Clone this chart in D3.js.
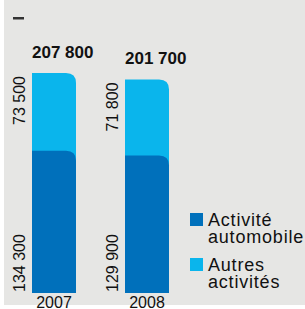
<!DOCTYPE html>
<html>
<head>
<meta charset="utf-8">
<script src="https://cdn.jsdelivr.net/npm/d3@7"></script>
<style>
  body { margin: 0; background: #fff; }
  svg { display: block; font-family: "Liberation Sans", Arial, sans-serif; }
</style>
</head>
<body>
<div id="chart"></div>
<script>
// data
var years = ["2007", "2008"];
var autoValues = [134300, 129900];
var otherValues = [73500, 71800];
var totals = [207800, 201700];
var seriesNames = [["Activité", "automobile"], ["Autres", "activités"]];

var width = 305, height = 309;
var darkBlue = "#0070bb", lightBlue = "#0ab5ec";

var svg = d3.select("#chart").append("svg")
    .attr("width", width)
    .attr("height", height);

// panel background, white strips left and bottom
svg.append("rect")
    .attr("x", 4).attr("y", 0)
    .attr("width", width - 4).attr("height", 305)
    .attr("fill", "#e6e6e4");

// cut-off heading (only the bottoms of the brackets show)
svg.append("text")
    .attr("x", 16).attr("y", -3)
    .attr("font-size", 14)
    .attr("textLength", 166)
    .text("(effectifs au 31 décembre)");
svg.append("rect")
    .attr("x", 13).attr("y", 17)
    .attr("width", 11).attr("height", 2.5)
    .attr("fill", "#333");

var x = d3.scaleBand()
    .domain(years)
    .range([32, 169])
    .paddingInner(0.527)
    .paddingOuter(0);

var y = d3.scaleLinear()
    .domain([0, 207800])
    .range([293, 73]);

var fmt = function (v) { return d3.format(",")(v).replace(",", " "); };

// bar with just the top-right corner rounded
function topRightBar(x0, w, yTop, yBottom, r) {
    return "M" + x0 + "," + yBottom +
        "V" + yTop +
        "H" + (x0 + w - r) +
        "Q" + (x0 + w) + "," + yTop + " " + (x0 + w) + "," + (yTop + r) +
        "V" + yBottom + "Z";
}

var bars = svg.selectAll(".bar")
    .data(years)
    .enter().append("g")
    .attr("class", "bar");

bars.append("path")
    .attr("d", function (d, i) {
        return topRightBar(x(d), x.bandwidth(), y(autoValues[i] + otherValues[i]), y(0), 10);
    })
    .attr("fill", lightBlue);

bars.append("path")
    .attr("d", function (d, i) {
        return topRightBar(x(d), x.bandwidth(), y(autoValues[i]), y(0), 10);
    })
    .attr("fill", darkBlue);

// totals above the bars
bars.append("text")
    .attr("x", function (d) { return x(d); })
    .attr("y", function (d, i) { return y(totals[i]) - 15; })
    .attr("font-size", 17)
    .attr("font-weight", "bold")
    .attr("fill", "#111")
    .text(function (d, i) { return fmt(totals[i]); });

// rotated segment labels
bars.append("text")
    .attr("transform", function (d, i) {
        return "translate(" + (x(d) - 7.5) + "," + (y(totals[i]) + 3) + ") rotate(-90)";
    })
    .attr("text-anchor", "end")
    .attr("font-size", 16)
    .attr("fill", "#111")
    .text(function (d, i) { return fmt(otherValues[i]); });

bars.append("text")
    .attr("transform", function (d, i) {
        return "translate(" + (x(d) - 7.5) + "," + (y(0) - 1) + ") rotate(-90)";
    })
    .attr("text-anchor", "start")
    .attr("font-size", 16)
    .attr("fill", "#111")
    .text(function (d, i) { return fmt(autoValues[i]); });

// x axis labels
svg.append("g")
    .attr("transform", "translate(0," + y(0) + ")")
    .call(d3.axisBottom(x).tickSize(0).tickPadding(3.5))
    .call(function (g) { g.select(".domain").remove(); })
    .selectAll("text")
    .attr("font-family", "Liberation Sans, Arial, sans-serif")
    .attr("font-size", 16)
    .attr("fill", "#111");

// legend
var legend = svg.selectAll(".legend")
    .data(seriesNames)
    .enter().append("g")
    .attr("class", "legend")
    .attr("transform", function (d, i) { return "translate(190," + (213 + i * 45) + ")"; });

legend.append("rect")
    .attr("width", 13).attr("height", 13)
    .attr("fill", function (d, i) { return i === 0 ? darkBlue : lightBlue; });

legend.append("text")
    .attr("font-size", 18)
    .attr("letter-spacing", 0.8)
    .attr("fill", "#111")
    .selectAll("tspan")
    .data(function (d) { return d; })
    .enter().append("tspan")
    .attr("x", 18)
    .attr("y", function (d, i) { return 13 + i * 16.5; })
    .text(function (d) { return d; });
</script>
</body>
</html>
